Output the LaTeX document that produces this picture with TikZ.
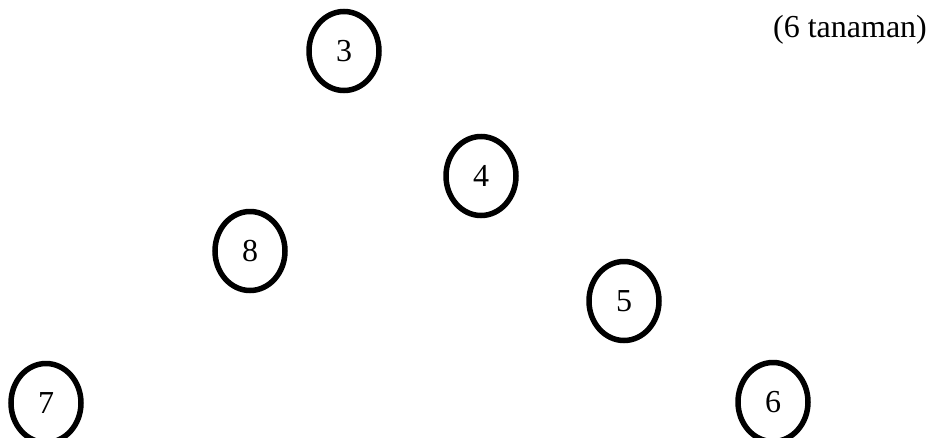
\documentclass[tikz,border=0pt]{standalone}
\usepackage{fontspec}
\setmainfont{Liberation Serif}
\usepackage{tikz}
\usetikzlibrary{shapes.geometric}

\begin{document}
\begin{tikzpicture}[
  x=1pt, y=-1pt,
  font=\fontsize{32}{38}\selectfont,
  plant/.style={draw, ellipse, line width=5.5pt, inner sep=0pt,
                minimum width=70pt, minimum height=79pt},
  note/.style={inner sep=0pt},
]
\useasboundingbox (0,0) rectangle (932,437);

% plant positions
\node[plant] (P3) at (344,51)  {3};
\node[plant] (P4) at (481,176) {4};
\node[plant] (P8) at (250,251) {8};
\node[plant] (P5) at (624,301) {5};
\node[plant] (P7) at (46,403)  {7};
\node[plant] (P6) at (773,402) {6};

% count
\node[note] (N) at (850,30) {(6 tanaman)};

\end{tikzpicture}
\end{document}
